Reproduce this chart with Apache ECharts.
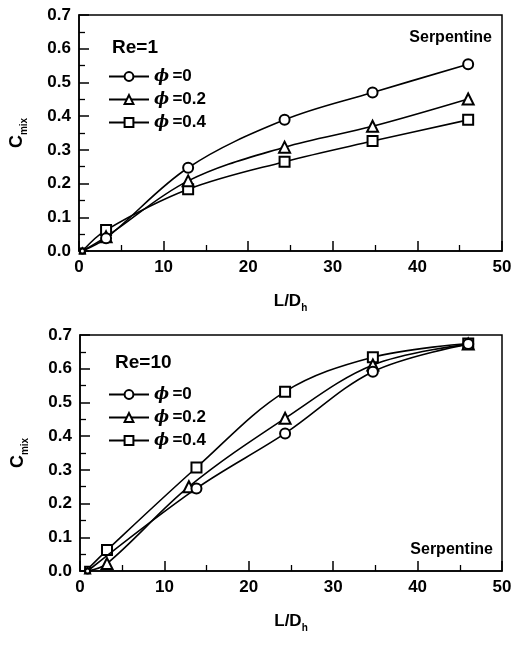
<!DOCTYPE html>
<html>
<head>
<meta charset="utf-8">
<script src="https://cdn.jsdelivr.net/npm/echarts@6/dist/echarts.min.js"></script>
<style>
  html, body { margin: 0; padding: 0; background: #fff; }
  #chart { width: 524px; height: 646px; }
</style>
</head>
<body>
<div id="chart"></div>
<script>
// Mixing index C_mix along the serpentine channel, L/D_h, for three values of phi.
const xTicks = [0, 10, 20, 30, 40, 50];
const yTicks = [0.0, 0.1, 0.2, 0.3, 0.4, 0.5, 0.6, 0.7];

// Re = 1
const re1Phi0X  = [0.4, 3.2, 12.9, 24.3, 34.7, 46.0];
const re1Phi0Y  = [0.000, 0.038, 0.247, 0.389, 0.470, 0.554];
const re1Phi02X = [0.4, 3.2, 12.9, 24.3, 34.7, 46.0];
const re1Phi02Y = [0.000, 0.042, 0.208, 0.308, 0.370, 0.451];
const re1Phi04X = [0.4, 3.2, 12.9, 24.3, 34.7, 46.0];
const re1Phi04Y = [0.000, 0.062, 0.183, 0.265, 0.326, 0.389];

// Re = 10
const re10Phi0X  = [0.9, 13.8, 24.3, 34.7, 46.0];
const re10Phi0Y  = [0.000, 0.245, 0.408, 0.591, 0.673];
const re10Phi02X = [0.9, 3.2, 12.9, 24.3, 34.7, 46.0];
const re10Phi02Y = [0.000, 0.022, 0.250, 0.453, 0.611, 0.673];
const re10Phi04X = [0.9, 3.2, 13.8, 24.3, 34.7, 46.0];
const re10Phi04Y = [0.005, 0.062, 0.307, 0.532, 0.634, 0.675];

const phiLabels = ['=0', '=0.2', '=0.4'];

const FONT = '"Liberation Sans", Arial, sans-serif';
const pair = (xs, ys) => xs.map((x, i) => [x, ys[i]]);

// inward major and minor ticks on the bottom and left axes
const ticks = {
  axisTick: { show: true, inside: true, length: 10, lineStyle: { color: '#000', width: 1.5 } },
  minorTick: { show: true, splitNumber: 2, length: 6, lineStyle: { color: '#000', width: 1.3 } }
};

function xAxisFor(gridIndex) {
  return Object.assign({
    type: 'value', gridIndex, min: xTicks[0], max: xTicks[xTicks.length - 1], interval: 10,
    name: '{m|L/D}{s|h}', nameLocation: 'middle', nameGap: 38,
    nameTextStyle: {
      rich: {
        m: { fontFamily: FONT, fontWeight: 'bold', fontSize: 17, color: '#000' },
        s: { fontFamily: FONT, fontWeight: 'bold', fontSize: 10, color: '#000', padding: [14, 0, 0, 0] }
      }
    },
    axisLine: { show: true, lineStyle: { color: '#000', width: 1.5 } },
    splitLine: { show: false },
    axisLabel: { fontFamily: FONT, fontWeight: 'bold', fontSize: 17, color: '#000', margin: 8 }
  }, ticks);
}

function yAxisFor(gridIndex) {
  return Object.assign({
    type: 'value', gridIndex, min: yTicks[0], max: yTicks[yTicks.length - 1], interval: 0.1,
    name: '{m|C}{s|mix}', nameLocation: 'middle', nameGap: 50, nameRotate: 90,
    nameTextStyle: {
      rich: {
        m: { fontFamily: FONT, fontWeight: 'bold', fontSize: 18, color: '#000' },
        s: { fontFamily: FONT, fontWeight: 'bold', fontSize: 10, color: '#000', padding: [14, 0, 0, 0] }
      }
    },
    axisLine: { show: true, lineStyle: { color: '#000', width: 1.5 } },
    splitLine: { show: false },
    axisLabel: { fontFamily: FONT, fontWeight: 'bold', fontSize: 17, color: '#000', margin: 8,
                 formatter: v => Number(v).toFixed(1) }
  }, ticks);
}

const symbols = ['emptyCircle', 'emptyTriangle', 'emptyRect'];
const symbolSizes = [10, 11, 10];

function lineSeries(name, idx, data, gridIndex) {
  return {
    type: 'line', name, xAxisIndex: gridIndex, yAxisIndex: gridIndex,
    data, smooth: 0.35,
    symbol: symbols[idx],
    // the marker sitting on the origin is drawn small
    symbolSize: (v) => (v[1] < 0.01 ? 5 : symbolSizes[idx]),
    showAllSymbol: true,
    lineStyle: { color: '#000', width: 1.6 },
    itemStyle: { color: '#000', borderColor: '#000', borderWidth: 1.2 },
    z: 3 - idx
  };
}

function legendFor(names, top) {
  return {
    orient: 'vertical', left: 103, top,
    itemWidth: 40, itemHeight: 11, itemGap: 6,
    data: names,
    formatter: n => '{p|ϕ} {t|' + phiLabels[names.indexOf(n)] + '}',
    textStyle: {
      rich: {
        p: { fontFamily: '"DejaVu Serif", serif', fontStyle: 'italic', fontWeight: 'bold', fontSize: 16, color: '#000' },
        t: { fontFamily: FONT, fontWeight: 'bold', fontSize: 17, color: '#000' }
      }
    },
    selectedMode: false
  };
}

const topNames = ['re1-0', 're1-02', 're1-04'];
const botNames = ['re10-0', 're10-02', 're10-04'];

const chart = echarts.init(document.getElementById('chart'), null, { renderer: 'canvas' });
chart.setOption({
  animation: false,
  backgroundColor: '#fff',
  grid: [
    { left: 77, top: 15, width: 425, height: 236, show: true, borderColor: '#000', borderWidth: 1.5 },
    { left: 80, top: 335, width: 422, height: 236, show: true, borderColor: '#000', borderWidth: 1.5 }
  ],
  xAxis: [xAxisFor(0), xAxisFor(1)],
  yAxis: [yAxisFor(0), yAxisFor(1)],
  legend: [legendFor(topNames, 63), legendFor(botNames, 381)],
  series: [
    lineSeries(topNames[0], 0, pair(re1Phi0X, re1Phi0Y), 0),
    lineSeries(topNames[1], 1, pair(re1Phi02X, re1Phi02Y), 0),
    lineSeries(topNames[2], 2, pair(re1Phi04X, re1Phi04Y), 0),
    lineSeries(botNames[0], 0, pair(re10Phi0X, re10Phi0Y), 1),
    lineSeries(botNames[1], 1, pair(re10Phi02X, re10Phi02Y), 1),
    lineSeries(botNames[2], 2, pair(re10Phi04X, re10Phi04Y), 1)
  ],
  graphic: [
    { type: 'text', left: 112, top: 38, style: { text: 'Re=1', fontFamily: FONT, fontWeight: 'bold', fontSize: 19, fill: '#000' } },
    { type: 'text', right: 32, top: 30, style: { text: 'Serpentine', fontFamily: FONT, fontWeight: 'bold', fontSize: 16, fill: '#000' } },
    { type: 'text', left: 115, top: 353, style: { text: 'Re=10', fontFamily: FONT, fontWeight: 'bold', fontSize: 19, fill: '#000' } },
    { type: 'text', right: 31, top: 542, style: { text: 'Serpentine', fontFamily: FONT, fontWeight: 'bold', fontSize: 16, fill: '#000' } }
  ]
});
</script>
</body>
</html>
